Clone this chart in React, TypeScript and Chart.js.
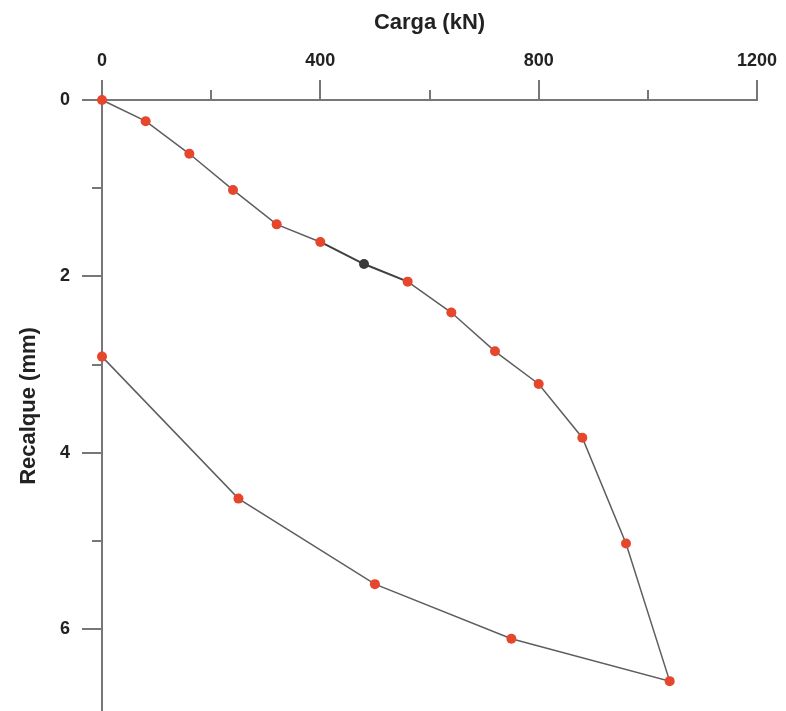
import React, { useEffect, useRef } from 'react';
import { Chart, registerables } from 'chart.js';
Chart.register(...registerables);

const carga = [0, 80, 160, 240, 320, 400, 480, 560, 640, 720, 800, 880, 960, 1040, 750, 500, 250, 0];
const recalque = [0, 0.24, 0.61, 1.02, 1.41, 1.61, 1.86, 2.06, 2.41, 2.85, 3.22, 3.83, 5.03, 6.59, 6.11, 5.49, 4.52, 2.91];
const xTicks = [0, 400, 800, 1200];
const xMinorTicks = [200, 600, 1000];
const yTicks = [0, 2, 4, 6];
const yMinorTicks = [1, 3, 5];
const highlightIndex = 6;

const AXIS = '#777777';
const TEXT = '#222222';
const FONT = "'Liberation Sans', Arial, sans-serif";

const minorTicksPlugin = {
  id: 'minorTicks',
  afterDraw(chart: any) {
    const { ctx, chartArea } = chart;
    const x = chart.scales.x;
    const y = chart.scales.y;
    ctx.save();
    ctx.strokeStyle = AXIS;
    ctx.lineWidth = 2;
    xMinorTicks.forEach((v) => {
      const px = Math.round(x.getPixelForValue(v));
      ctx.beginPath();
      ctx.moveTo(px, chartArea.top);
      ctx.lineTo(px, chartArea.top - 10);
      ctx.stroke();
    });
    yMinorTicks.forEach((v) => {
      const py = Math.round(y.getPixelForValue(v));
      ctx.beginPath();
      ctx.moveTo(chartArea.left, py);
      ctx.lineTo(chartArea.left - 10, py);
      ctx.stroke();
    });
    ctx.restore();
  },
};

export default function App() {
  const ref = useRef<HTMLCanvasElement>(null);
  useEffect(() => {
    if (!ref.current) return;
    const points = carga.map((c, i) => ({ x: c, y: recalque[i] }));
    const chart = new Chart(ref.current, {
      type: 'scatter',
      data: {
        datasets: [
          {
            data: points,
            showLine: true,
            borderColor: '#5e5e5e',
            borderWidth: 1.5,
            pointRadius: 5,
            pointHoverRadius: 5,
            pointBorderWidth: 0,
            pointBackgroundColor: points.map((_, i) => (i === highlightIndex ? '#3a3a3a' : '#e5462c')),
            segment: {
              borderColor: (ctx: any) =>
                ctx.p0DataIndex === highlightIndex || ctx.p1DataIndex === highlightIndex ? '#3f3f3f' : '#5e5e5e',
              borderWidth: (ctx: any) =>
                ctx.p0DataIndex === highlightIndex || ctx.p1DataIndex === highlightIndex ? 2 : 1.5,
            },
            clip: false,
          } as any,
        ],
      },
      options: {
        responsive: false,
        animation: false,
        devicePixelRatio: 1,
        layout: { padding: { left: 0, top: 0, right: 29, bottom: 0 } },
        plugins: { legend: { display: false }, tooltip: { enabled: false } },
        scales: {
          x: {
            type: 'linear',
            position: 'top',
            min: 0,
            max: 1200,
            afterBuildTicks: (s: any) => {
              s.ticks = xTicks.map((v) => ({ value: v }));
            },
            afterFit: (s: any) => {
              s.height = 100;
              s.paddingLeft = 0;
              s.paddingRight = 0;
            },
            ticks: {
              color: TEXT,
              padding: 8,
              font: { family: FONT, size: 18, weight: 'bold' },
              maxRotation: 0,
              callback: (v: any) => String(v),
            },
            grid: { drawOnChartArea: false, drawTicks: true, tickLength: 20, color: AXIS, lineWidth: 2 },
            border: { display: true, color: AXIS, width: 2 },
            title: {
              display: true,
              text: 'Carga (kN)',
              color: TEXT,
              font: { family: FONT, size: 22, weight: 'bold' },
              padding: { top: 10, bottom: 0 },
            },
          },
          y: {
            type: 'linear',
            position: 'left',
            reverse: true,
            min: 0,
            max: 6.94,
            afterBuildTicks: (s: any) => {
              s.ticks = yTicks.map((v) => ({ value: v }));
            },
            afterFit: (s: any) => {
              s.width = 102;
              s.paddingTop = 0;
              s.paddingBottom = 0;
            },
            ticks: {
              color: TEXT,
              padding: 12,
              font: { family: FONT, size: 18, weight: 'bold' },
              callback: (v: any) => String(v),
            },
            grid: { drawOnChartArea: false, drawTicks: true, tickLength: 20, color: AXIS, lineWidth: 2 },
            border: { display: true, color: AXIS, width: 2 },
            title: {
              display: true,
              text: 'Recalque (mm)',
              color: TEXT,
              font: { family: FONT, size: 22, weight: 'bold' },
              padding: { top: 16, bottom: 0 },
            },
          },
        },
      },
      plugins: [minorTicksPlugin],
    });
    return () => chart.destroy();
  }, []);
  return (
    <div style={{ position: 'fixed', left: 0, top: 0, width: 786, height: 711, overflow: 'hidden', background: '#ffffff' }}>
      <canvas ref={ref} width={786} height={717} style={{ display: 'block' }} />
    </div>
  );
}
